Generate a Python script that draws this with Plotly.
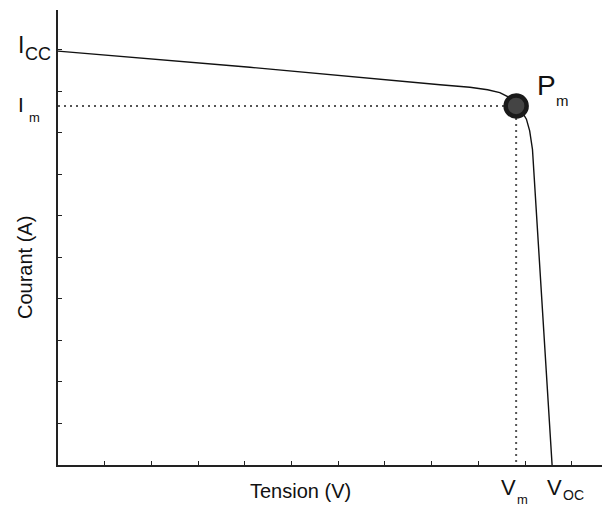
import plotly.graph_objects as go

# I-V curve of a PV cell (arbitrary units)
tension = [0.0, 4.11, 8.18, 8.82, 9.2, 9.46, 9.65, 9.81, 9.94, 10.03, 10.1, 10.16, 10.36, 10.58]
courant = [9.97, 9.58, 9.16, 9.10, 9.04, 8.97, 8.86, 8.65, 8.5, 8.33, 8.05, 7.6, 3.98, 0.0]

v_m, i_m = 9.81, 8.65
v_oc, i_cc = 10.58, 9.97

x_max, y_max = 11.82, 10.96
font = "Arial, Liberation Sans, sans-serif"

fig = go.Figure()

fig.add_trace(go.Scatter(
    x=tension, y=courant, mode="lines",
    line=dict(color="#111111", width=1.4),
    hoverinfo="skip",
))

# dotted guides to the maximum power point
fig.add_trace(go.Scatter(
    x=[0, v_m], y=[i_m, i_m], mode="lines",
    line=dict(color="#555555", width=2, dash="2px,4px"),
))
fig.add_trace(go.Scatter(
    x=[v_m, v_m], y=[i_m, 0], mode="lines",
    line=dict(color="#555555", width=2, dash="2px,4px"),
))

fig.add_trace(go.Scatter(
    x=[v_m], y=[i_m], mode="markers",
    marker=dict(size=21, color="#444444", line=dict(color="#1a1a1a", width=4.5)),
))

def label(x, y, text, size, xanchor="left", yanchor="middle", xshift=0, yshift=0,
          xref="x", yref="y", angle=0):
    fig.add_annotation(
        x=x, y=y, xref=xref, yref=yref, text=text, showarrow=False, textangle=angle,
        font=dict(family=font, size=size, color="#111111"),
        xanchor=xanchor, yanchor=yanchor, xshift=xshift, yshift=yshift,
    )

# I_CC
label(0, i_cc, "I", 23, xanchor="right", xshift=-32, yshift=6)
label(0, i_cc, "CC", 18, xanchor="right", xshift=-5, yshift=-3)
# I_m
label(0, i_m, "I", 21, xanchor="right", xshift=-32, yshift=1)
label(0, i_m, "m", 13, xanchor="right", xshift=-16, yshift=-12)
# P_m
label(v_m, i_m, "P", 28, xshift=19, yshift=20)
label(v_m, i_m, "m", 15, xshift=38, yshift=5)
# V_m
label(v_m, 0, "V", 22, xanchor="center", yanchor="top", xshift=-8, yshift=-8)
label(v_m, 0, "m", 13, xanchor="center", yanchor="top", xshift=6, yshift=-25)
# V_OC
label(v_oc, 0, "V", 22, xanchor="center", yanchor="top", xshift=2, yshift=-8)
label(v_oc, 0, "OC", 14, xanchor="center", yanchor="top", xshift=21, yshift=-20)

# axis titles
label(242 / 552, 0, "Tension (V)", 20, xanchor="center", yanchor="middle",
      xref="paper", yref="paper", yshift=-26)
label(0, (465 - 268) / 455, "Courant (A)", 20, xanchor="center", yanchor="middle",
      xref="paper", yref="paper", xshift=-33, angle=-90)

# the page body has an 8px margin, so the figure is 8px smaller and shifted
fig.update_layout(
    width=602, height=498,
    margin=dict(l=50, r=0, t=2, b=41),
    paper_bgcolor="white", plot_bgcolor="white",
    showlegend=False,
    font=dict(family=font, size=16, color="#111111"),
)
fig.update_xaxes(
    range=[0, x_max], showgrid=False, zeroline=False, automargin=False,
    showline=True, linecolor="#222222", linewidth=2,
    ticks="inside", ticklen=4, tickcolor="#222222", tick0=0, dtick=1,
    showticklabels=False,
)
fig.update_yaxes(
    range=[0, y_max], showgrid=False, zeroline=False, automargin=False,
    showline=True, linecolor="#222222", linewidth=2,
    ticks="inside", ticklen=4, tickcolor="#222222", tick0=0, dtick=1,
    showticklabels=False,
)

fig.write_html("out.html")
